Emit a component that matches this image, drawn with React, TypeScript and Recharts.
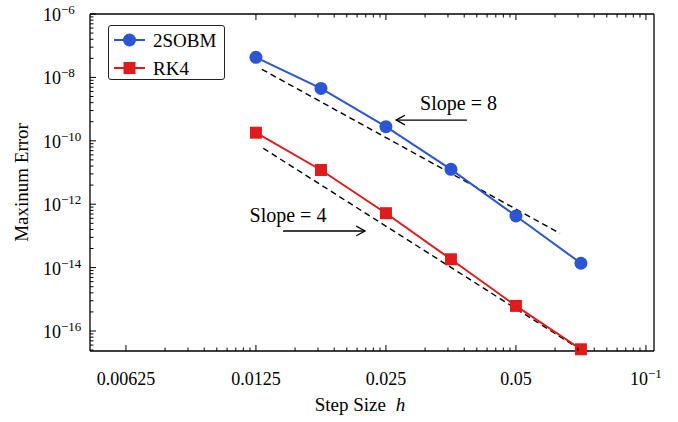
import { LineChart, Line, XAxis, YAxis, ReferenceLine, Legend } from 'recharts'

// step sizes h and maximum errors
const stepSize = [0.0125, 0.01768, 0.025, 0.03536, 0.05, 0.07071]
const sobmError = [4.3e-8, 4.5e-9, 2.8e-10, 1.26e-11, 4.25e-13, 1.37e-14]
const rk4Error = [1.8e-10, 1.2e-11, 5.2e-13, 1.83e-14, 6.2e-16, 2.65e-17]

const xTickValues = [0.00625, 0.0125, 0.025, 0.05, 0.1]
const xTickLabels = ['0.00625', '0.0125', '0.025', '0.05', '10^-1']
const yTickValues = [1e-16, 1e-14, 1e-12, 1e-10, 1e-8, 1e-6]
const yTickLabels = ['10^-16', '10^-14', '10^-12', '10^-10', '10^-8', '10^-6']

// reference slope guides and annotation arrows
const slope8Guide = [{ h: 0.0129, err: 1.8e-8 }, { h: 0.0632, err: 1.21e-13 }]
const slope4Guide = [{ h: 0.013, err: 5.8e-11 }, { h: 0.0696, err: 2.9e-17 }]
const slope8Arrow = [{ h: 0.0385, err: 4.5e-10 }, { h: 0.0264, err: 4.5e-10 }]
const slope4Arrow = [{ h: 0.01444, err: 1.43e-13 }, { h: 0.02236, err: 1.43e-13 }]

const xDomain = [0.00516, 0.1044]
const yDomain = [2.34e-17, 1e-6]

const BLUE = '#2b55d2'
const RED = '#df1b1b'
const FONT = '"Liberation Serif", "Times New Roman", serif'

const data = stepSize.map((h, i) => ({ h, sobm: sobmError[i], rk4: rk4Error[i] }))

const subs = [2, 3, 4, 5, 6, 7, 8, 9]
// pgfplots-style minor ticks inside each labelled interval
const xMinor = xTickValues.slice(0, -1).flatMap((a) => subs.map((m) => a * Math.pow(2, Math.log10(m))))
const yMinor = [yTickValues[0] / 100, ...yTickValues.slice(0, -1)]
  .flatMap((a) => subs.map((m) => a * m * m))
  .filter((v) => v >= yDomain[0])
const xTicksAll = [...xTickValues, ...xMinor].sort((a, b) => a - b)
const xTicksTop = xTicksAll.filter((v) => v >= 0.0125 * 0.999)
const yTicksAll = [...yTickValues, ...yMinor].sort((a, b) => a - b)

function majorIndex(v: number, list: number[]) {
  return list.findIndex((m) => Math.abs(v - m) / m < 1e-6)
}

function TickText({ label, x, y, anchor }: { label: string; x: number; y: number; anchor: string }) {
  const parts = label.split('^')
  return (
    <text x={x} y={y} textAnchor={anchor} fontFamily={FONT} fontSize={18} fill="#000">
      {parts[0]}
      {parts[1] && (
        <tspan dy={-7} fontSize={13}>
          {parts[1].replace('-', '\u2212')}
        </tspan>
      )}
    </text>
  )
}

function XTick(props: any) {
  const { x, y, payload, top } = props
  const idx = majorIndex(payload.value, xTickValues)
  const len = idx >= 0 ? 6 : 3.5
  const y2 = top ? y + len : y - len
  return (
    <g>
      <line x1={x} x2={x} y1={y} y2={y2} stroke="#000" strokeWidth={1} />
      {!top && idx >= 0 && <TickText label={xTickLabels[idx]} x={x} y={y + 34} anchor="middle" />}
    </g>
  )
}

function YTick(props: any) {
  const { x, y, payload, right } = props
  const idx = majorIndex(payload.value, yTickValues)
  const len = idx >= 0 ? 6 : 3.5
  const x2 = right ? x - len : x + len
  return (
    <g>
      <line x1={x} x2={x2} y1={y} y2={y} stroke="#000" strokeWidth={1} />
      {!right && idx >= 0 && <TickText label={yTickLabels[idx]} x={x - 47} y={y + 7} anchor="start" />}
    </g>
  )
}

function Arrow(props: any) {
  const { x1, y1, x2, y2, text, dx, dy } = props
  const ang = Math.atan2(y2 - y1, x2 - x1)
  const a1 = ang + Math.PI - 0.5
  const a2 = ang + Math.PI + 0.5
  const L = 10
  return (
    <g>
      <line x1={x1} y1={y1} x2={x2} y2={y2} stroke="#000" strokeWidth={1.3} />
      <polyline
        points={`${x2 + L * Math.cos(a1)},${y2 + L * Math.sin(a1)} ${x2},${y2} ${x2 + L * Math.cos(a2)},${y2 + L * Math.sin(a2)}`}
        fill="none"
        stroke="#000"
        strokeWidth={1.3}
      />
      <text
        x={(x1 + x2) / 2 + dx}
        y={y1 + dy}
        textAnchor="middle"
        fontFamily={FONT}
        fontSize={20}
        fill="#000"
      >
        {text}
      </text>
    </g>
  )
}

function Square(props: any) {
  const { cx, cy } = props
  return <rect x={cx - 6} y={cy - 6} width={12} height={12} fill={RED} />
}

function LegendBox() {
  return (
    <div
      style={{
        border: '1.3px solid #222',
        borderRadius: 3,
        background: '#fff',
        width: 115,
        height: 53,
      }}
    >
      <svg width={115} height={53} style={{ display: 'block' }}>
        <line x1={5} x2={36} y1={14} y2={14} stroke={BLUE} strokeWidth={2} />
        <circle cx={20.5} cy={14} r={6.5} fill={BLUE} />
        <text x={44} y={20.5} fontFamily={FONT} fontSize={19} fill="#000">2SOBM</text>
        <line x1={5} x2={36} y1={42} y2={42} stroke={RED} strokeWidth={2} />
        <rect x={14.5} y={36} width={12} height={12} fill={RED} />
        <text x={44} y={48.5} fontFamily={FONT} fontSize={19} fill="#000">RK4</text>
      </svg>
    </div>
  )
}

const frame = { stroke: '#000', strokeWidth: 1.3 }

export default function App() {
  return (
    <div style={{ position: 'absolute', left: 0, top: 0, width: 678, height: 422, background: '#fff' }}>
      <LineChart width={678} height={422} data={data} margin={{ top: 4, right: 14, bottom: 41, left: 60 }}>
        <XAxis
          dataKey="h"
          type="number"
          scale="log"
          domain={xDomain}
          ticks={xTicksAll}
          interval={0}
          height={30}
          tickSize={0}
          tickMargin={0}
          tickLine={false}
          axisLine={frame}
          tick={(p: any) => <XTick {...p} />}
          label={{
            content: (p: any) => {
              const vb = p.viewBox
              return (
                <text x={vb.x + vb.width / 2 - 12} y={vb.y + 60} textAnchor="middle" fontFamily={FONT} fontSize={19} fill="#000">
                  Step Size <tspan fontStyle="italic" dx={5}>h</tspan>
                </text>
              )
            },
          }}
        />
        <XAxis
          xAxisId="top"
          orientation="top"
          dataKey="h"
          type="number"
          scale="log"
          domain={xDomain}
          ticks={xTicksTop}
          interval={0}
          height={10}
          tickSize={0}
          tickMargin={0}
          tickLine={false}
          axisLine={frame}
          tick={(p: any) => <XTick {...p} top />}
        />
        <YAxis
          type="number"
          scale="log"
          domain={yDomain}
          ticks={yTicksAll}
          interval={0}
          width={30}
          tickSize={0}
          tickMargin={0}
          tickLine={false}
          axisLine={frame}
          tick={(p: any) => <YTick {...p} />}
          label={{
            content: (p: any) => {
              const vb = p.viewBox
              const cy = vb.y + vb.height / 2
              return (
                <text
                  x={28}
                  y={cy}
                  transform={`rotate(-90 28 ${cy})`}
                  textAnchor="middle"
                  fontFamily={FONT}
                  fontSize={19}
                  fill="#000"
                >
                  Maxinum Error
                </text>
              )
            },
          }}
        />
        <YAxis
          yAxisId="right"
          orientation="right"
          type="number"
          scale="log"
          domain={yDomain}
          ticks={yTicksAll}
          interval={0}
          width={10}
          tickSize={0}
          tickMargin={0}
          tickLine={false}
          axisLine={frame}
          tick={(p: any) => <YTick {...p} right />}
        />
        <ReferenceLine
          segment={[{ x: slope8Guide[0].h, y: slope8Guide[0].err }, { x: slope8Guide[1].h, y: slope8Guide[1].err }]}
          stroke="#000"
          strokeWidth={1.4}
          strokeDasharray="6 4"
        />
        <ReferenceLine
          segment={[{ x: slope4Guide[0].h, y: slope4Guide[0].err }, { x: slope4Guide[1].h, y: slope4Guide[1].err }]}
          stroke="#000"
          strokeWidth={1.4}
          strokeDasharray="6 4"
        />
        <ReferenceLine
          segment={[{ x: slope8Arrow[0].h, y: slope8Arrow[0].err }, { x: slope8Arrow[1].h, y: slope8Arrow[1].err }]}
          shape={(p: any) => <Arrow {...p} text="Slope = 8" dx={27} dy={-10} />}
        />
        <ReferenceLine
          segment={[{ x: slope4Arrow[0].h, y: slope4Arrow[0].err }, { x: slope4Arrow[1].h, y: slope4Arrow[1].err }]}
          shape={(p: any) => <Arrow {...p} text="Slope = 4" dx={-36} dy={-9} />}
        />
        <Line
          dataKey="sobm"
          name="2SOBM"
          stroke={BLUE}
          strokeWidth={2}
          dot={{ r: 6.5, fill: BLUE, stroke: BLUE, strokeWidth: 0 }}
          isAnimationActive={false}
        />
        <Line
          dataKey="rk4"
          name="RK4"
          stroke={RED}
          strokeWidth={2}
          dot={(p: any) => <Square key={p.index} {...p} />}
          isAnimationActive={false}
        />
        <Legend
          layout="vertical"
          align="center"
          verticalAlign="middle"
          wrapperStyle={{ position: 'absolute', left: 108, top: 25, width: 'auto', height: 'auto' }}
          content={() => <LegendBox />}
        />
      </LineChart>
    </div>
  )
}
